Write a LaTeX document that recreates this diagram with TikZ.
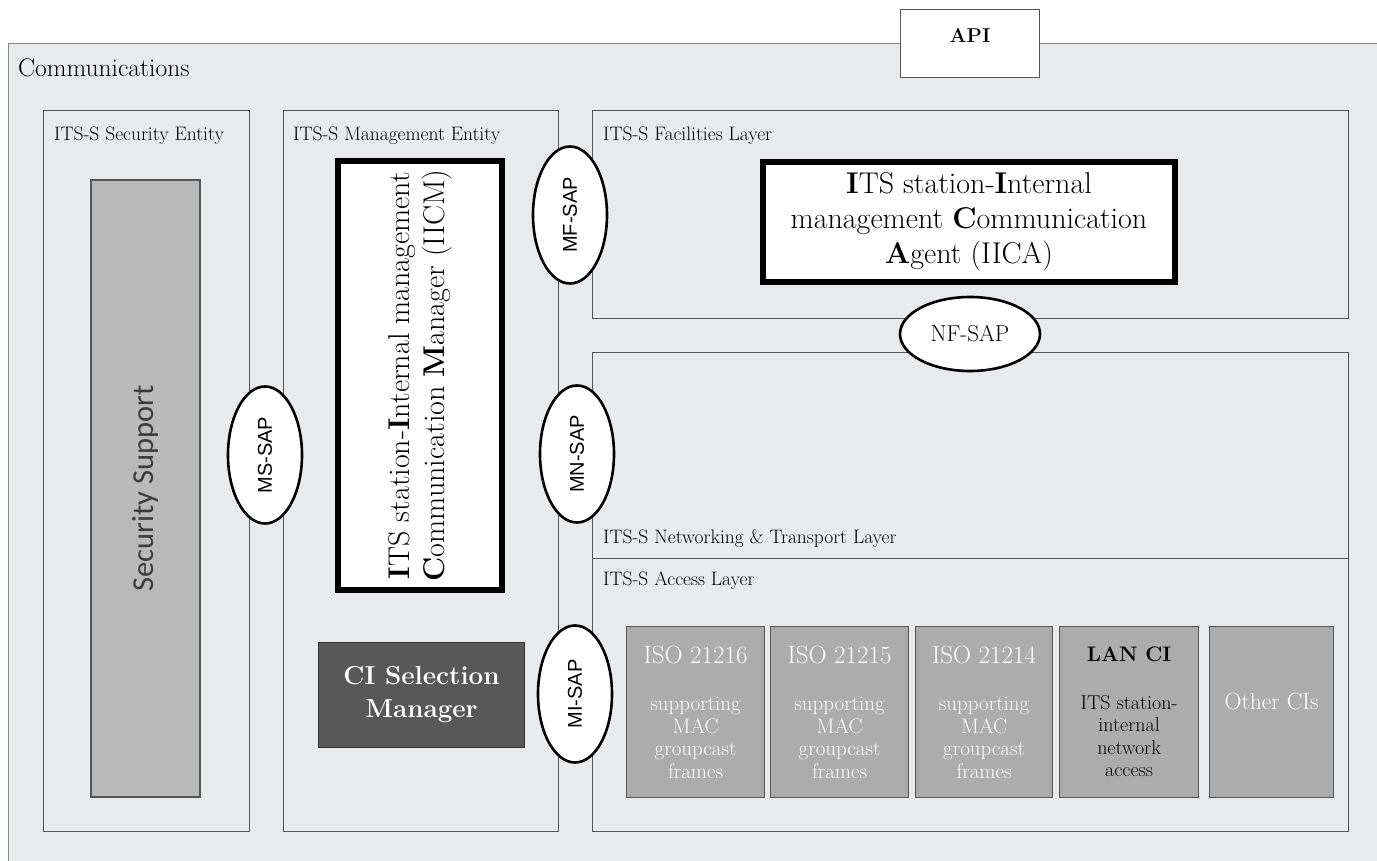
\documentclass[tikz,border=0pt]{standalone}
\usepackage{fontspec}
\usepackage{tikz}
\usetikzlibrary{positioning, shapes}
\newfontfamily\sapfont{Liberation Sans}
\newfontfamily\calfont{Carlito}
\definecolor{bgGray}{RGB}{233,234,236}
\definecolor{ciGray}{RGB}{172,172,172}
\definecolor{secGray}{RGB}{185,185,185}
\definecolor{selGray}{RGB}{88,88,88}
\definecolor{lineGray}{RGB}{85,85,85}
\definecolor{txtGray}{RGB}{60,60,60}
\tikzset{Layer/.style={draw=lineGray, line width=1.2pt, fill=bgGray, anchor=north west, inner sep=0}}
\tikzset{Lbl/.style={inner sep=0, font=\fontsize{19.5}{23}\selectfont}}
\tikzset{SAP/.style={ellipse, draw, line width=2.6pt, fill=white, inner sep=0,
    minimum width=137pt, minimum height=74pt, font=\sapfont\fontsize{20}{24}\selectfont}}
\tikzset{Agent/.style={draw, line width=5.5pt, fill=white, align=center, inner sep=0,
    font=\fontsize{30}{35}\selectfont}}
\tikzset{CI/.style={draw=lineGray, line width=1.2pt, fill=ciGray, text=white, anchor=north west,
    inner sep=0, minimum height=171pt, align=center, font=\fontsize{21}{22.5}\selectfont}}
\newcommand{\CIText}[1]{{\fontsize{25}{22.5}\selectfont ISO #1}\\[25pt] supporting\\MAC\\groupcast\\frames}

\begin{document}
\begin{tikzpicture}[x=1pt, y=-1pt]
    \clip (0,0) rectangle (1377,861);

    %% Outer frame and API
    \node[Layer, draw=lineGray!70, minimum width=1420pt, minimum height=860pt] (comm) at (8,43) {};
    \node[Lbl, font=\fontsize{25.5}{28}\selectfont, anchor=north west,
          below right=15pt and 10pt of comm.north west] (commlbl) {Communications};
    \node[draw=lineGray, line width=1.2pt, fill=white, anchor=north west, inner sep=0,
          minimum width=139pt, minimum height=68pt, text depth=16pt,
          font=\bfseries\fontsize{20}{22}\selectfont] (api) at (900,9) {API};

    %% Entities
    \node[Layer, minimum width=206pt, minimum height=721pt] (sec) at (43,110) {};
    \node[Lbl, anchor=north west, below right=16.5pt and 11pt of sec.north west] (seclbl) {ITS-S Security Entity};
    \node[draw=lineGray, line width=1.2pt, fill=secGray, rotate=90, inner sep=0,
          minimum width=617pt, minimum height=109pt, text=txtGray,
          font=\calfont\fontsize{30.5}{36}\selectfont] (secsup) at (145.5,488.5) {Security Support};

    \node[Layer, minimum width=275pt, minimum height=721pt] (mgmt) at (283,110) {};
    \node[Lbl, anchor=north west, below right=16.5pt and 10pt of mgmt.north west] (mgmtlbl) {ITS-S Management Entity};
    \node[Agent, rotate=90, minimum width=429pt, minimum height=164pt] (iicm) at (420,375.5)
        {\textbf{I}TS station-\textbf{I}nternal management\\\textbf{C}ommunication \textbf{M}anager (IICM)};
    \node[fill=selGray, draw=black!80, line width=1pt, anchor=north west, inner sep=0,
          minimum width=206pt, minimum height=105pt, text=white, align=center,
          font=\bfseries\fontsize{26}{33}\selectfont] (cisel) at (318,642) {CI Selection\\Manager};

    %% Layers
    \node[Layer, minimum width=756pt, minimum height=208pt] (fac) at (592,110) {};
    \node[Lbl, anchor=north west, below right=16.5pt and 11pt of fac.north west] (faclbl) {ITS-S Facilities Layer};
    \node[Agent, minimum width=412pt, minimum height=120pt] (iica) at (969,222)
        {\textbf{I}TS station-\textbf{I}nternal\\management \textbf{C}ommunication\\\textbf{A}gent (IICA)};

    \node[Layer, minimum width=756pt, minimum height=206pt] (net) at (592,352) {};
    \node[Lbl, anchor=south west, above right=12pt and 11pt of net.south west] (netlbl) {ITS-S Networking \& Transport Layer};

    \node[Layer, minimum width=756pt, minimum height=273pt] (acc) at (592,558) {};
    \node[Lbl, anchor=north west, below right=14pt and 11pt of acc.north west] (acclbl) {ITS-S Access Layer};

    %% Communication interfaces
    \node[CI, minimum width=138pt] (ci1) at (626,626) {\CIText{21216}};
    \node[CI, minimum width=138pt] (ci2) at (770,626) {\CIText{21215}};
    \node[CI, minimum width=137pt] (ci3) at (915,626) {\CIText{21214}};
    \node[CI, minimum width=139pt, text=black, font=\fontsize{20}{22.5}\selectfont] (ci4) at (1059,626)
        {{\bfseries\fontsize{21}{22.5}\selectfont LAN CI}\\[25pt] ITS station-\\internal\\network\\access};
    \node[CI, minimum width=124pt, text depth=22pt, font=\fontsize{23.5}{26}\selectfont] (ci5) at (1209,626) {Other CIs};

    %% Service access points
    \node[SAP, rotate=90] (mfsap) at (570,215) {MF-SAP};
    \node[SAP, rotate=90] (mssap) at (265,455) {MS-SAP};
    \node[SAP, rotate=90] (mnsap) at (577,454) {MN-SAP};
    \node[SAP, rotate=90] (misap) at (575,694) {MI-SAP};
    \node[SAP, minimum width=140pt, font=\fontsize{23}{26}\selectfont] (nfsap) at (970,334) {NF-SAP};

\end{tikzpicture}
\end{document}
